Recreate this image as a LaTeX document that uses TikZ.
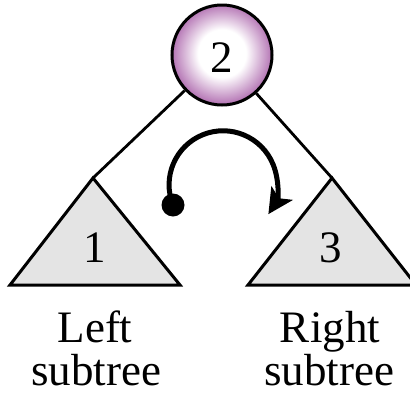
\documentclass[tikz,border=0pt]{standalone}
\usepackage{fontspec}
\setmainfont{Liberation Serif}
\usetikzlibrary{arrows.meta}
\definecolor{rootpurple}{RGB}{128,20,128}
\definecolor{subgray}{RGB}{228,228,228}
\pgfdeclareradialshading{rootshade}{\pgfpoint{0bp}{1bp}}{%
  color(0bp)=(white); color(12bp)=(white); color(23bp)=(rootpurple!50);
  color(31bp)=(rootpurple!88); color(35bp)=(rootpurple); color(50bp)=(rootpurple)}
\tikzset{
  bigtext/.style={font=\fontsize{45}{45}\selectfont, inner sep=0pt},
  subtri/.style={draw=black, fill=subgray, line width=3pt, line join=miter},
  edge/.style={draw=black, line width=2.8pt},
  turn/.style={draw=black, line width=5pt, -{Stealth[length=25pt,width=25pt,inset=6pt]}},
}
\begin{document}
\begin{tikzpicture}[x=1pt,y=-1pt]
\useasboundingbox (0,0) rectangle (410,397);
% subtrees
\coordinate (lapex) at (93,178);
\coordinate (lbl) at (10,285);
\coordinate (lbr) at (180,285);
\coordinate (rapex) at (332,178);
\coordinate (rbl) at (248,285);
\coordinate (rbr) at (416,285);
\path[subtri] (lapex) -- (lbr) -- (lbl) -- cycle;
\path[subtri] (rapex) -- (rbr) -- (rbl) -- cycle;
% root
\node[circle, minimum size=100pt, inner sep=0pt, draw=black, line width=3pt,
      shading=rootshade] (root) at (222,55) {};
\node[bigtext, anchor=base] (rootlabel) at (222,72) {2};
\path[edge] (root) -- (lapex);
\path[edge] (root) -- (rapex);
% labels in triangles
\node[bigtext, anchor=base] (one) at (95,262) {1};
\node[bigtext, anchor=base] (three) at (331,262) {3};
% traversal arrow
\coordinate (dotpt) at (173,205);
\fill (dotpt) circle[radius=11.5pt];
\path[turn] (dotpt) arc[start angle=158, end angle=393, radius=54];
% captions
\node[bigtext, anchor=base] (lcap1) at (95,342) {Left};
\node[bigtext, anchor=base] (lcap2) at (96,385) {subtree};
\node[bigtext, anchor=base] (rcap1) at (330,342) {Right};
\node[bigtext, anchor=base] (rcap2) at (329,385) {subtree};
\end{tikzpicture}
\end{document}
